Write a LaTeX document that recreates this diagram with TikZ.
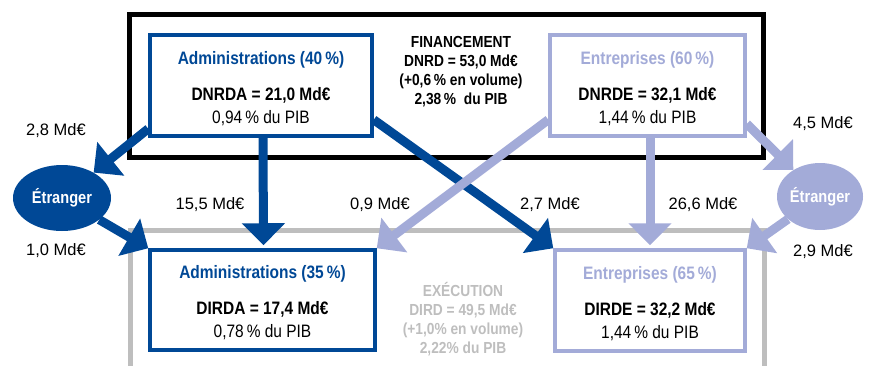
\documentclass[tikz,border=0pt]{standalone}
\usepackage{fontspec}
\setmainfont{Liberation Sans}[FakeStretch=0.86]
\newfontfamily\lblfont{Liberation Sans}
\usetikzlibrary{arrows.meta,shapes.geometric}
\definecolor{admblue}{HTML}{004896}
\definecolor{entlilac}{HTML}{A3ABD8}
\definecolor{execgray}{HTML}{BEBEBE}
\newcommand\toppad{\rule{0pt}{19pt}}
\tikzset{
  sector/.style={draw,line width=3.5pt,fill=white,align=center,inner sep=0pt,
    font=\fontsize{18}{23}\selectfont},
  abroad/.style={ellipse,inner sep=0pt,text=white,font=\bfseries\fontsize{17}{20}\selectfont},
  flow/.style={line width=9pt,-{Triangle[width=42pt,length=22pt]}},
  amount/.style={font=\lblfont\fontsize{16.5}{20}\selectfont},
}

\begin{document}
\begin{tikzpicture}[x=1pt,y=-1pt]
  \useasboundingbox (0,0) rectangle (877,365);
  % frames
  \draw[line width=5pt] (129,14) rectangle (763,157);
  \draw[execgray,line width=5pt] (130,230) rectangle (764,380);
  \node[align=center,font=\bfseries\fontsize{16}{19}\selectfont] (fin) at (461,72)
    {FINANCEMENT\\DNRD = 53,0 Md€\\(+0,6\,\% en volume)\\2,38\,\%~~du PIB};
  \node[align=center,text=execgray,font=\bfseries\fontsize{16}{19}\selectfont] (exe) at (463,319)
    {EXÉCUTION\\DIRD = 49,5 Md€\\(+1,0\% en volume)\\2,22\% du PIB};

  % sectors
  \node[sector,draw=admblue,minimum width=222pt,minimum height=101pt] (admtop) at (261,85.5)
    {\toppad\textcolor{admblue}{\bfseries Administrations (40\,\%)}\\[13pt]{\bfseries DNRDA = 21,0 Md€}\\0,94\,\% du PIB};
  \node[sector,draw=entlilac,minimum width=195pt,minimum height=101pt] (enttop) at (647.5,85.5)
    {\toppad\textcolor{entlilac}{\bfseries Entreprises (60\,\%)}\\[13pt]{\bfseries DNRDE = 32,1 Md€}\\1,44\,\% du PIB};
  \node[sector,draw=admblue,minimum width=225pt,minimum height=100pt] (admbot) at (262.5,300)
    {\toppad\textcolor{admblue}{\bfseries Administrations (35\,\%)}\\[13pt]{\bfseries DIRDA = 17,4 Md€}\\0,78\,\% du PIB};
  \node[sector,draw=entlilac,minimum width=190pt,minimum height=101pt] (entbot) at (650,300.5)
    {\toppad\textcolor{entlilac}{\bfseries Entreprises (65\,\%)}\\[13pt]{\bfseries DIRDE = 32,2 Md€}\\1,44\,\% du PIB};

  \node[abroad,fill=admblue,minimum width=98pt,minimum height=66pt] (etrL) at (62,198) {Étranger};
  \node[abroad,fill=entlilac,minimum width=86pt,minimum height=67pt] (etrR) at (820,196.5) {Étranger};

  % flows
  \draw[flow,admblue,shorten >=3pt] ([xshift=2pt]admtop.south) -- ([xshift=1pt]admbot.north);
  \draw[flow,admblue] ([yshift=9pt]admtop.south west) -- (etrL);
  \draw[flow,admblue] (etrL) -- (admbot.north west);
  \draw[flow,admblue] ([yshift=18pt]admtop.south east) -- (entbot.north west);
  \draw[flow,entlilac] ([yshift=18pt]enttop.south west) -- (admbot.north east);
  \draw[flow,entlilac,shorten >=3pt] ([xshift=2.5pt]enttop.south) -- (entbot.north);
  \draw[flow,entlilac] ([yshift=14pt]enttop.south east) -- (etrR);
  \draw[flow,entlilac] (etrR) -- (entbot.north east);

  \foreach \x/\y/\v/\n in {56/131/{2,8}/a,56/251/{1,0}/b,210/205/{15,5}/c,380/205/{0,9}/d,
      550/205/{2,7}/e,703/205/{26,6}/f,823/124/{4,5}/g,823/252/{2,9}/h}
    \node[amount] (amt\n) at (\x,\y) {\v~Md€};
\end{tikzpicture}
\end{document}
